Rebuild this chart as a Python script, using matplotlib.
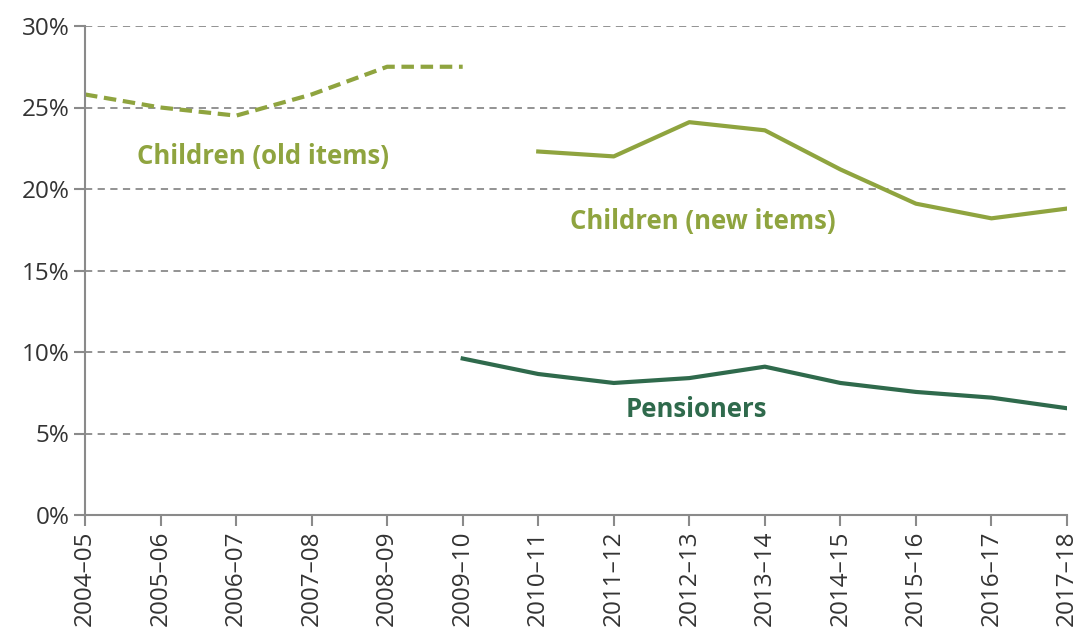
import numpy as np
import matplotlib.pyplot as plt

years = ['2004–05', '2005–06', '2006–07', '2007–08', '2008–09', '2009–10', '2010–11',
         '2011–12', '2012–13', '2013–14', '2014–15', '2015–16', '2016–17', '2017–18']
children_old = [25.8, 25.0, 24.5, 25.8, 27.5, 27.5]
children_new = [22.3, 22.0, 24.1, 23.6, 21.2, 19.1, 18.2, 18.8]
pensioners = [9.6, 8.65, 8.1, 8.4, 9.1, 8.1, 7.55, 7.2, 6.55]

light_green = '#8fa43f'
dark_green = '#2f6a4c'
grey = '#8a8a8a'

plt.rcParams['font.family'] = ['Open Sans', 'DejaVu Sans']

fig = plt.figure(figsize=(10.81, 6.30), dpi=100)
ax = fig.add_axes([85 / 1081, 1 - 515 / 630, (1067 - 85) / 1081, (515 - 26) / 630])

x = np.arange(len(years))
ax.plot(x[:6], children_old, color=light_green, linewidth=3, linestyle=(0, (3, 1.6)))
ax.plot(x[6:], children_new, color=light_green, linewidth=3)
ax.plot(x[5:], pensioners, color=dark_green, linewidth=3)

ax.text(2.35, 22.0, 'Children (old items)', color=light_green, fontsize=18.5, fontweight='bold',
        ha='center', va='center')
ax.text(8.18, 18.0, 'Children (new items)', color=light_green, fontsize=18.5, fontweight='bold',
        ha='center', va='center')
ax.text(8.1, 6.5, 'Pensioners', color=dark_green, fontsize=18.5, fontweight='bold',
        ha='center', va='center')

ax.set_xlim(0, len(years) - 1)
ax.set_ylim(0, 30)
ax.set_xticks(x)
ax.set_xticklabels(years, rotation=90)
ax.set_yticks(range(0, 31, 5))
ax.set_yticklabels([f'{v}%' for v in range(0, 31, 5)])
ax.tick_params(axis='both', labelsize=17.5, colors='#333333', length=8, width=1.5, color=grey)
ax.tick_params(axis='x', pad=3)
ax.tick_params(axis='y', pad=3)

for v in range(5, 31, 5):
    ax.axhline(v, color=grey, linewidth=1.3, linestyle=(0, (4, 3)), zorder=0)

for side in ['top', 'right']:
    ax.spines[side].set_visible(False)
for side in ['left', 'bottom']:
    ax.spines[side].set_color(grey)
    ax.spines[side].set_linewidth(1.5)

fig.savefig('out.png', dpi=100)
